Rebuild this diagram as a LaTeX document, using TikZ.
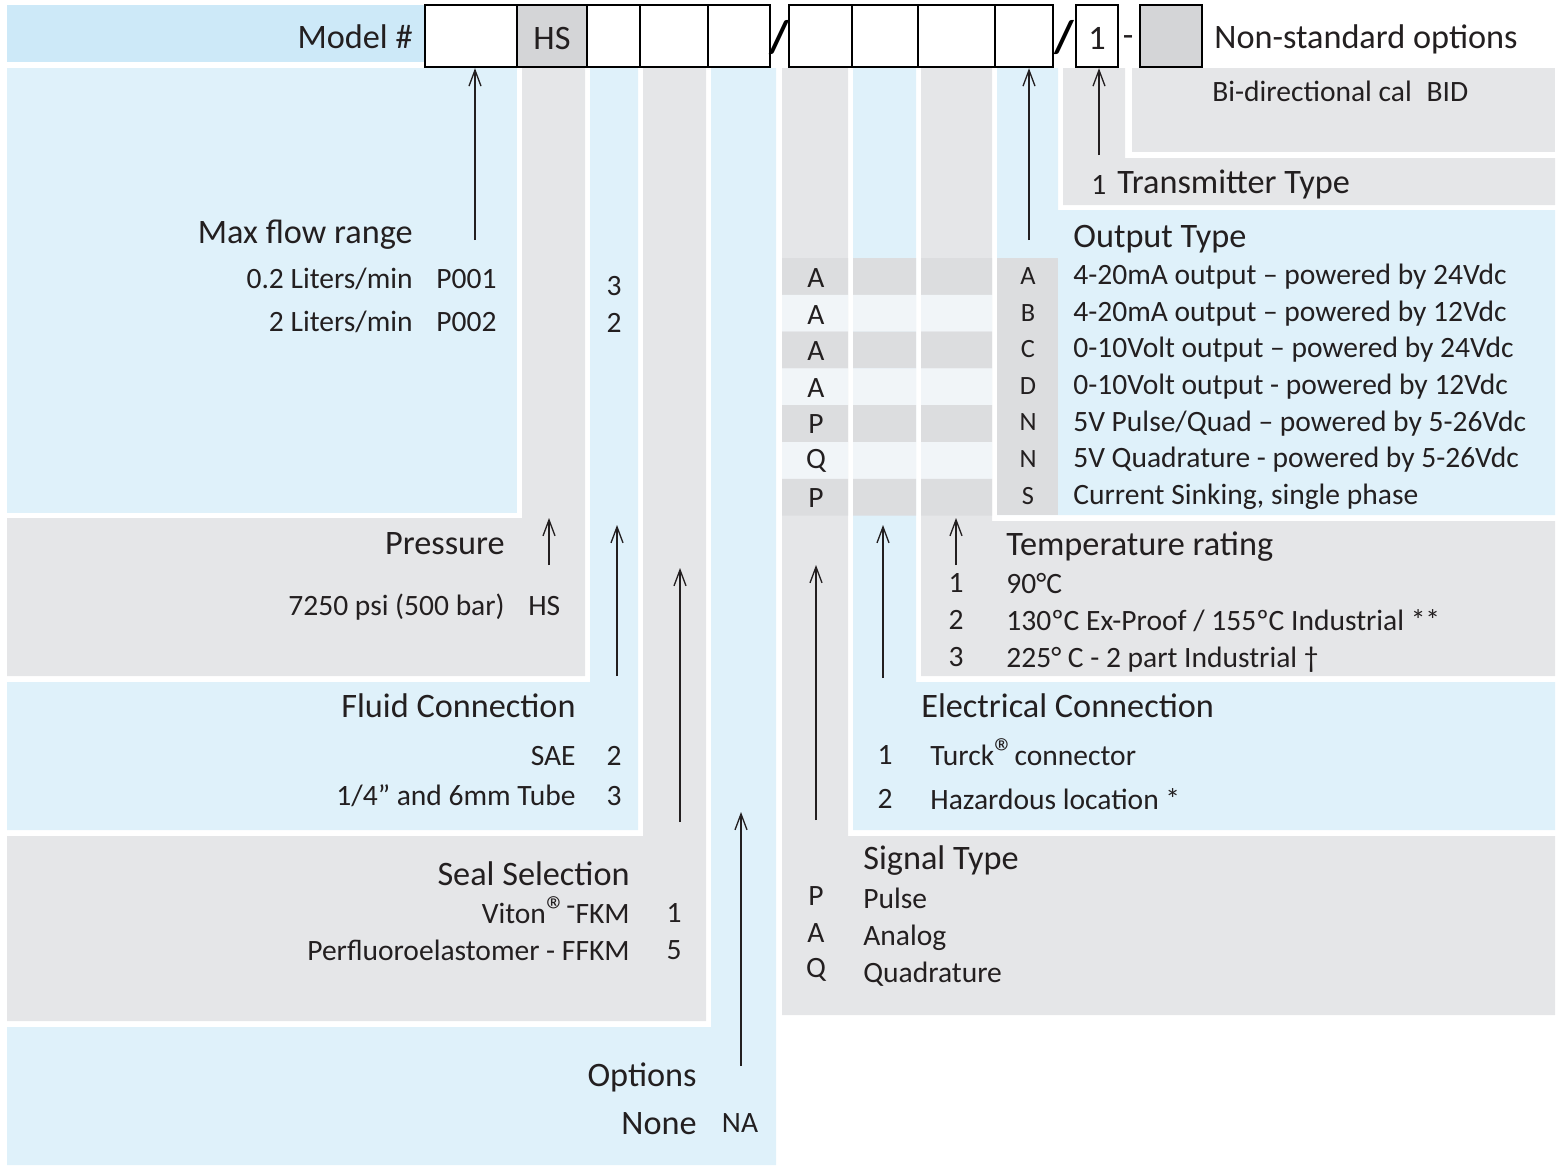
\documentclass[tikz,border=0pt]{standalone}
\usepackage{fontspec}
\setmainfont{Carlito}
\usepackage{tikz}
\usetikzlibrary{arrows.meta,positioning}
\definecolor{ocblue}{RGB}{223,241,250}
\definecolor{ocbar}{RGB}{205,233,248}
\definecolor{ocgray}{RGB}{229,230,232}
\definecolor{ocrow}{RGB}{220,221,223}
\definecolor{oclite}{RGB}{241,245,248}
\definecolor{ocfill}{RGB}{212,213,215}
\definecolor{octext}{RGB}{35,31,32}
\newcommand{\ocreg}{{\fontsize{23}{23}\selectfont\raisebox{-0.05ex}{\textregistered}}}
\tikzset{
  ocbox/.style={draw=black, line width=1.4pt, minimum height=1.24cm, inner sep=0pt},
  ochead/.style={font=\fontsize{19.5}{21}\selectfont, text=octext, inner sep=0pt},
  ocitem/.style={font=\fontsize{16.8}{19}\selectfont, text=octext, inner sep=0pt},
  occode/.style={font=\fontsize{15}{17}\selectfont, text=octext, inner sep=0pt},
  ocl/.style={anchor=mid west, yshift=-0.09cm},
  ocr/.style={anchor=mid east, yshift=-0.09cm},
  ocslash/.style={font=\fontsize{26}{28}\selectfont\bfseries, text=black, inner sep=0pt},
  ocarrow/.style={-{Straight Barb[length=3.2mm,width=2.4mm]}, line width=0.75pt, draw=octext}
}

\begin{document}
\begin{tikzpicture}[x=0.02cm,y=-0.02cm]
  \useasboundingbox (0,0) rectangle (1565,1167);

  % left hand fields
  \fill[ocbar] (7,5) rectangle (425,62);
  \fill[ocblue] (7,68) rectangle (517,513);
  \fill[ocgray] (522,68) rectangle (585,676) (7,518) rectangle (585,676);
  \fill[ocblue] (590,68) rectangle (638,830) (7,682) rectangle (638,830);
  \fill[ocgray] (643,68) rectangle (706,1021) (7,836) rectangle (706,1021);
  \fill[ocblue] (711,68) rectangle (776,1165) (7,1027) rectangle (776,1165);

  % right hand fields
  \fill[ocgray] (782,68) rectangle (848,1015) (782,836) rectangle (1555,1015);
  \fill[ocblue] (853,68) rectangle (916,830) (853,682) rectangle (1555,830);
  \fill[ocgray] (921,68) rectangle (992,676) (921,521) rectangle (1555,676);
  \fill[ocblue] (997,68) rectangle (1058,515) (997,210) rectangle (1555,515);
  \fill[ocgray] (1063,68) rectangle (1125,205) (1063,158) rectangle (1555,205);
  \fill[ocgray] (1132,68) rectangle (1555,152);

  % output type table stripes
  \foreach \i in {0,...,6} {
    \pgfmathsetmacro{\ya}{258+\i*36.8}
    \pgfmathsetmacro{\yb}{\ya+36.8}
    \pgfmathtruncatemacro{\odd}{mod(\i,2)}
    \ifnum\odd=0 \def\rc{ocrow}\else \def\rc{oclite}\fi
    \fill[\rc] (782,\ya) rectangle (848,\yb) (853,\ya) rectangle (916,\yb) (921,\ya) rectangle (992,\yb);
  }
  \fill[ocrow] (997,258) rectangle (1058,515);

  % model number boxes
  \node[ochead, ocr] (model) at (413,40) {Model \#};
  \foreach \l/\r/\n/\c in {425/517/b1/white, 517/587/b2/ocfill, 587/640/b3/white,
      640/708/b4/white, 708/770/b5/white, 789/852/b6/white, 852/918/b7/white,
      918/995/b8/white, 995/1053/b9/white, 1076/1118/b10/white, 1140/1202/b11/ocfill}
    \node[ocbox, fill=\c, minimum width={(\r-\l)*0.02cm}] (\n) at ({(\l+\r)/2},36) {};
  \node[ochead, yshift=-0.04cm] (hs) at (b2) {HS};
  \node[ochead, yshift=-0.04cm] (one) at (b10) {1};
  \node[ocslash] (sla) at (779,38) {/};
  \node[ocslash] (slb) at (1064,38) {/};
  \node[ochead] (dsh) at (1128,41) {-};
  \node[ochead, ocl] (nonstd) at (1214,40) {Non-standard options};

  % non-standard options / transmitter
  \node[ocitem, ocl] (bid) at (1212,93) {Bi-directional cal\enspace BID};
  \node[ocitem, ocl] (ttnum) at (1091,186) {1};
  \node[ochead, ocl] (ttype) at (1117,185) {Transmitter Type};

  % output type
  \node[ochead, ocl] (otype) at (1073,239) {Output Type};
  \foreach \i/\s/\o/\t in {0/A/A/{4-20mA output -- powered by 24Vdc},
      1/A/B/{4-20mA output -- powered by 12Vdc},
      2/A/C/{0-10Volt output -- powered by 24Vdc},
      3/A/D/{0-10Volt output - powered by 12Vdc},
      4/P/N/{5V Pulse/Quad -- powered by 5-26Vdc},
      5/Q/N/{5V Quadrature - powered by 5-26Vdc},
      6/P/S/{Current Sinking, single phase}} {
    \node[ocitem] (sg\i) at (816,{278+\i*36.6}) {\s};
    \node[occode] (oc\i) at (1028,{276+\i*36.6}) {\o};
    \node[ocitem, ocl] (ot\i) at (1073,{276+\i*36.6}) {\t};
  }

  % max flow range
  \node[ochead, ocr] (flow) at (413,235) {Max flow range};
  \node[ocitem, ocr] (fla) at (413,280) {0.2 Liters/min};
  \node[ocitem, ocl] (flac) at (436,280) {P001};
  \node[ocitem, ocr] (flb) at (413,323) {2 Liters/min};
  \node[ocitem, ocl] (flbc) at (436,323) {P002};
  \node[ocitem] (fca) at (614,286) {3};
  \node[ocitem] (fcb) at (614,323) {2};

  % pressure
  \node[ochead, ocr] (pres) at (505,546) {Pressure};
  \node[ocitem, ocr] (presa) at (505,607) {7250 psi (500 bar)};
  \node[ocitem, ocl] (presc) at (528,607) {HS};

  % fluid connection
  \node[ochead, ocr] (fluid) at (576,709) {Fluid Connection};
  \node[ocitem, ocr] (flda) at (576,757) {SAE};
  \node[ocitem] (fldac) at (614,756) {2};
  \node[ocitem, ocr] (fldb) at (576,797) {1/4" and 6mm Tube};
  \node[ocitem] (fldbc) at (614,796) {3};

  % seal selection
  \node[ochead, ocr] (seal) at (630,877) {Seal Selection};
  \node[ocitem, ocr] (seala) at (630,915) {Viton\ocreg\raisebox{0.6ex}{-}FKM};
  \node[ocitem] (sealac) at (674,913) {1};
  \node[ocitem, ocr] (sealb) at (630,952) {Perfluoroelastomer - FFKM};
  \node[ocitem] (sealbc) at (674,950) {5};

  % options
  \node[ochead, ocr] (opts) at (697,1078) {Options};
  \node[ochead, ocr] (optsa) at (697,1126) {None};
  \node[ocitem] (optsac) at (740,1123) {NA};

  % temperature rating
  \node[ochead, ocl] (temp) at (1006,547) {Temperature rating};
  \foreach \i/\t in {0/{90°C}, 1/{130ºC Ex-Proof / 155ºC Industrial **},
      2/{225° C - 2 part Industrial †}} {
    \node[ocitem] (tpn\i) at (956,{583+\i*37}) {\the\numexpr\i+1\relax};
    \node[ocitem, ocl] (tpt\i) at (1006,{585+\i*37}) {\t};
  }

  % electrical connection
  \node[ochead, ocl] (elec) at (921,709) {Electrical Connection};
  \node[ocitem] (ela) at (885,755) {1};
  \node[ocitem, ocl] (elat) at (930,757) {Turck\ocreg connector};
  \node[ocitem] (elb) at (885,799) {2};
  \node[ocitem, ocl] (elbt) at (930,801) {Hazardous location *};

  % signal type
  \node[ochead, ocl] (sig) at (863,861) {Signal Type};
  \foreach \i/\s/\t in {0/P/Pulse, 1/A/Analog, 2/Q/Quadrature} {
    \node[ocitem] (sgn\i) at (816,{896+\i*37}) {\s};
    \node[ocitem, ocl] (sgt\i) at (863,{900+\i*37}) {\t};
  }

  % pointers
  \coordinate (flowt) at (475,240);
  \draw[ocarrow] (flowt) -- (flowt |- b1.south);
  \coordinate (outt) at (1029,240);
  \draw[ocarrow] (outt) -- (outt |- b9.south);
  \coordinate (trt) at (1099,155);
  \draw[ocarrow] (trt) -- (trt |- b10.south);
  \foreach \n/\x/\ya/\yb in {pr/549/565/518, fl/617/676/525, se/680/822/568,
      op/741/1066/812, sg/816/820/565, el/883/678/525, tp/956/565/518} {
    \coordinate (\n t) at (\x,\ya);
    \coordinate (\n h) at (\x,\yb);
    \draw[ocarrow] (\n t) -- (\n h);
  }
\end{tikzpicture}
\end{document}
